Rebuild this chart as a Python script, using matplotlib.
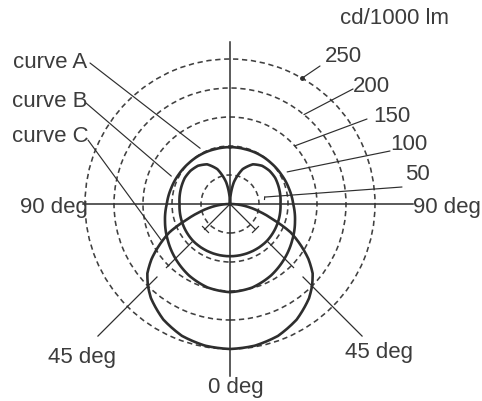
import numpy as np
import matplotlib
matplotlib.use("Agg")
import matplotlib.pyplot as plt

W, H = 482, 402

# ---------------- data (cd/1000 lm vs angle from nadir, degrees; symmetric) -------------
ring_values = [50, 100, 150, 200, 250]
ring_labels = ["50", "100", "150", "200", "250"]

curve_a_deg = [0, 15, 30, 45, 60, 75, 90, 105, 120, 135, 150, 165, 180]
curve_a_cd = [152, 149, 142, 133, 124, 116, 109, 105, 102, 100, 99, 98, 98]

curve_b_deg = [0, 15, 30, 45, 60, 75, 90, 100, 110, 120, 130, 140, 150, 160, 170, 180]
curve_b_cd = [90, 90, 90, 90, 89, 88, 87, 88, 89, 90, 89, 86, 79, 64, 38, 0]

curve_c_deg = [0, 10, 20, 30, 40, 45, 50, 55, 60, 65, 70, 75, 80, 85, 90]
curve_c_cd = [250, 248, 242, 230, 212, 200, 186, 165, 140, 115, 80, 55, 35, 17, 0]

curve_names = ["curve A", "curve B", "curve C"]
angle_labels = ["90 deg", "90 deg", "45 deg", "45 deg", "0 deg"]
unit_label = "cd/1000 lm"

# ---------------- layout ------------------------------------------------------------
plt.rcParams["font.family"] = ["Liberation Sans", "DejaVu Sans"]
fig = plt.figure(figsize=(W / 100, H / 100), dpi=100)
fig.patch.set_facecolor("white")

cx, cy = 230, 205          # centre in image pixels
R = 330                    # radial limit (cd)
scale = 0.58               # px per cd
rp = R * scale
ax = fig.add_axes([(cx - rp) / W, (H - cy - rp) / H, 2 * rp / W, 2 * rp / H],
                  projection="polar")
ax.set_theta_zero_location("S")
ax.set_ylim(0, R)
ax.set_facecolor("none")
ax.spines["polar"].set_visible(False)
ax.set_xticks([])
ax.set_yticks(ring_values)
ax.set_yticklabels([])
ax.tick_params(length=0)
ax.yaxis.grid(True, color="#404040", linestyle=(0, (3.3, 2.3)), linewidth=1.15)
ax.xaxis.grid(False)

LC = "#2e2e2e"
TC = "#3c3c3c"


def mirrored(deg, vals):
    d = np.asarray(deg, float)
    v = np.asarray(vals, float)
    th = np.concatenate([-d[::-1], d[1:]])
    rr = np.concatenate([v[::-1], v[1:]])
    return np.deg2rad(th), rr


for deg, vals in [(curve_a_deg, curve_a_cd), (curve_b_deg, curve_b_cd), (curve_c_deg, curve_c_cd)]:
    th, rr = mirrored(deg, vals)
    ln, = ax.plot(th, rr, color=LC, lw=1.9, solid_joinstyle="round")
    ln.get_path()._interpolation_steps = 30

# axis lines
ax.plot([np.pi, np.pi], [0, 279], color=LC, lw=1.1)
ax.plot([0, 0], [0, 297], color=LC, lw=1.1)
ax.plot([np.pi / 2, np.pi / 2], [0, 315], color=LC, lw=1.1)
ax.plot([-np.pi / 2, -np.pi / 2], [0, 253], color=LC, lw=1.1)

# 45 degree reference lines (broken)
for sgn in (1, -1):
    t = sgn * np.pi / 4
    for r0, r1 in [(0, 62), (93, 155), (178, 322)]:
        ax.plot([t, t], [r0, r1], color=LC, lw=0.9)
    ax.plot([t], [62], marker=(2, 0, -45 * sgn), ms=7, mew=0.9, color=LC, ls="none")

# ---------------- texts ---------------------------------------------------------------
fs = 16


def ftext(x, y, s):
    fig.text(x / W, 1 - y / H, s, ha="left", va="baseline", fontsize=fs, color=TC)


ftext(340, 24, unit_label)
for (x, y), s in zip([(405, 180), (390, 150), (373, 122), (353, 92), (325, 62)], ring_labels):
    ftext(x, y, s)
for (x, y), s in zip([(20, 213), (413, 213), (48, 363), (345, 358), (208, 393)], angle_labels):
    ftext(x, y, s)
for (x, y), s in zip([(13, 68), (12, 107), (12, 142)], curve_names):
    ftext(x, y, s)


def leader(x, y, tdeg, r):
    ax.annotate("", xy=(np.deg2rad(tdeg), r), xycoords="data",
                xytext=(x, H - y), textcoords="figure pixels",
                arrowprops=dict(arrowstyle="-", color=LC, lw=0.85, shrinkA=0, shrinkB=0))


leader(90, 64, -151.8, 109)
leader(86, 104, -115.4, 112)
leader(88, 141, -62.4, 134)
leader(320, 67, 150.2, 250)
leader(353, 90, 140.4, 200)
leader(367, 120, 131.9, 150)
leader(390, 152, 119.3, 113)
leader(402, 188, 101.3, 61)
ax.plot([np.deg2rad(150.2)], [250], marker="o", ms=2.5, color=LC)
ax.plot([np.deg2rad(101.3), np.deg2rad(97.5)], [61, 60], color=LC, lw=0.85)

fig.savefig("out.png", dpi=100, facecolor="white")
